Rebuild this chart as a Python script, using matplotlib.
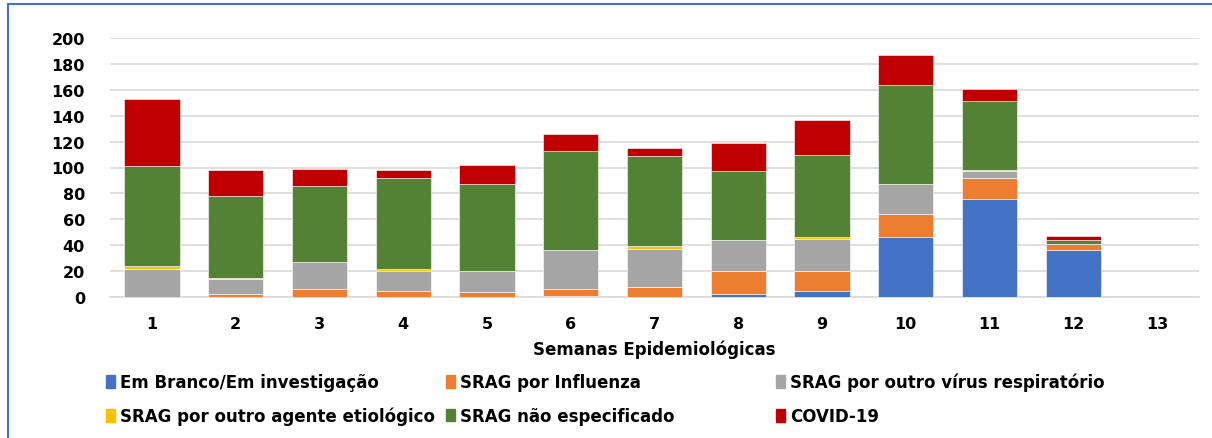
import matplotlib.pyplot as plt
import matplotlib.patches as mpatches
from matplotlib.lines import Line2D
import numpy as np

semanas = [str(i) for i in range(1, 14)]

em_branco = [0, 0, 0, 0, 0, 1, 0, 2, 5, 46, 76, 36, 0]
influenza = [0, 2, 6, 5, 4, 5, 8, 18, 15, 18, 16, 5, 0]
outro_virus = [22, 12, 21, 15, 16, 30, 29, 24, 25, 23, 5, 0, 0]
outro_agente = [2, 1, 0, 2, 0, 0, 2, 0, 1, 0, 1, 0, 0]
nao_especificado = [77, 63, 59, 70, 67, 77, 70, 53, 64, 77, 53, 3, 0]
covid = [52, 20, 13, 6, 15, 13, 6, 22, 27, 23, 10, 3, 0]

series = [
    ('Em Branco/Em investigação', em_branco, '#4472C4'),
    ('SRAG por Influenza', influenza, '#ED7D31'),
    ('SRAG por outro vírus respiratório', outro_virus, '#A5A5A5'),
    ('SRAG por outro agente etiológico', outro_agente, '#FFC000'),
    ('SRAG não especificado', nao_especificado, '#548235'),
    ('COVID-19', covid, '#C00000'),
]

plt.rcParams['font.family'] = ['DejaVu Sans']

fig = plt.figure(figsize=(12.12, 4.39), dpi=100)
W, H = 1212, 439
ax = fig.add_axes([110 / W, 1 - 298 / H, (1199 - 110) / W, (298 - 39) / H])

x = np.arange(len(semanas))
bottom = np.zeros(len(semanas))
handles = []
for label, vals, color in series:
    ax.bar(x, vals, bottom=bottom, width=0.66, color=color,
           edgecolor='white', linewidth=0.4, zorder=3)
    bottom += np.array(vals)
    handles.append(mpatches.Patch(color=color, label=label))

ax.set_xlim(-0.5, len(semanas) - 0.5)
ax.set_ylim(0, 200)
ax.set_yticks(range(0, 201, 20))
ax.set_xticks(x)
ax.set_xticklabels(semanas)
ax.grid(True, axis='y', color='#d9d9d9', linewidth=1.2, zorder=0)
for s in ['top', 'right', 'left']:
    ax.spines[s].set_visible(False)
ax.spines['bottom'].set_color('#d9d9d9')
ax.spines['bottom'].set_linewidth(1.2)
ax.tick_params(axis='both', length=0, labelsize=11.5)
ax.tick_params(axis='x', pad=14)
ax.tick_params(axis='y', pad=18)
for t in ax.get_xticklabels() + ax.get_yticklabels():
    t.set_fontweight('bold')

ax.set_xlabel('Semanas Epidemiológicas', fontsize=12, fontweight='bold', labelpad=6)

# legend in three columns, two rows each
col_x = [106, 446, 776]
for i, cx in enumerate(col_x):
    fig.legend(handles=[handles[i], handles[i + 3]], loc='upper left',
               bbox_to_anchor=(cx / W, 1 - 374 / H), frameon=False,
               prop={'weight': 'bold', 'size': 12},
               handlelength=0.55, handleheight=0.8, handletextpad=0.3,
               labelspacing=0.95, borderpad=0, borderaxespad=0)

# frame border (left and top visible)
fig.add_artist(Line2D([7.5 / W, 7.5 / W], [0, 1 - 4.5 / H], transform=fig.transFigure,
                      color='#4472C4', linewidth=1.5))
fig.add_artist(Line2D([7.5 / W, 1], [1 - 4.5 / H, 1 - 4.5 / H], transform=fig.transFigure,
                      color='#4472C4', linewidth=1.5))

fig.savefig('out.png', dpi=100)
